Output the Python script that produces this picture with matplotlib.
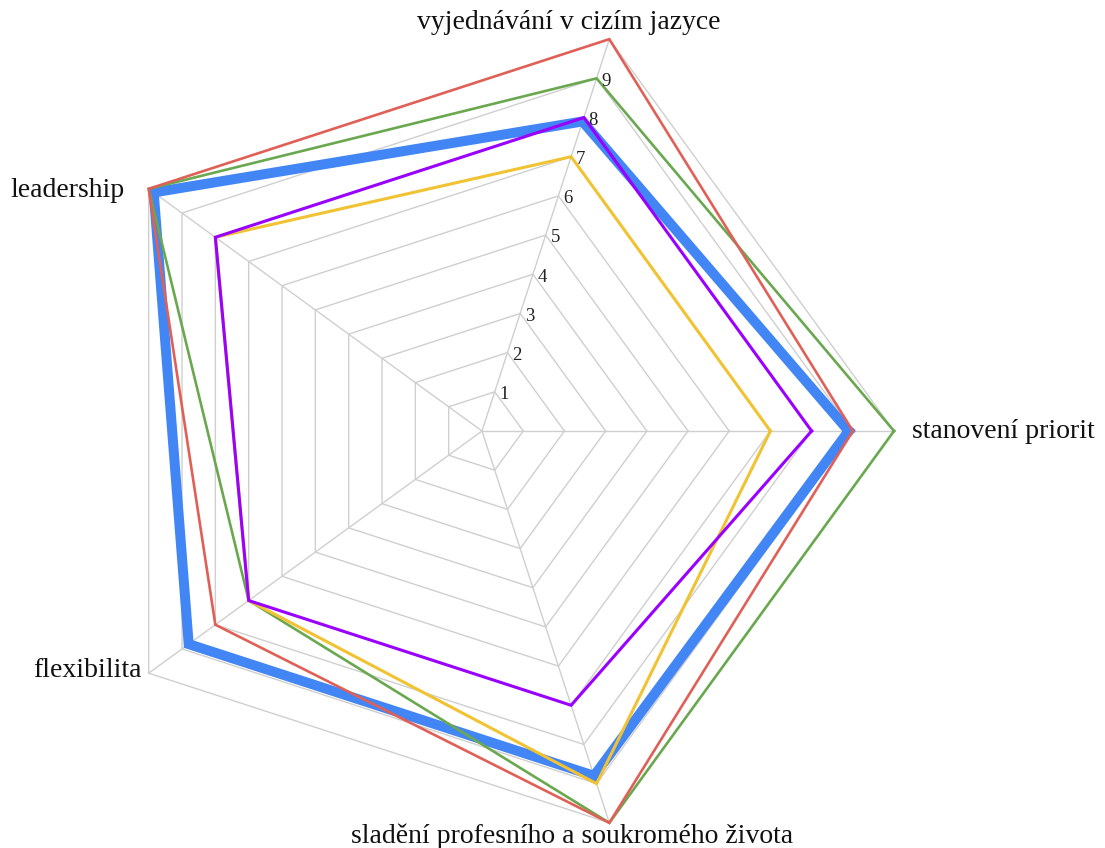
import numpy as np
import matplotlib.pyplot as plt

categories = ['stanovení priorit', 'vyjednávání v cizím jazyce', 'leadership',
              'flexibilita', 'sladění profesního a soukromého života']
red = [9, 10, 10, 8, 10]
green = [10, 9, 10, 7, 10]
blue = [8.9, 7.9, 9.85, 8.8, 8.8]
yellow = [7, 7, 8, 7, 9]
purple = [8, 8, 8, 7, 7]
levels = [1, 2, 3, 4, 5, 6, 7, 8, 9, 10]
tick_labels = ['1', '2', '3', '4', '5', '6', '7', '8', '9']

plt.rcParams['font.family'] = ['Liberation Serif', 'DejaVu Serif']

n = len(categories)
ang = np.deg2rad(np.arange(n) * 360.0 / n)


def xy(vals):
    v = np.asarray(vals, dtype=float)
    v = np.append(v, v[0])
    a = np.append(ang, ang[0])
    return v * np.cos(a), v * np.sin(a)


fig = plt.figure(figsize=(11.05, 8.48), dpi=100)
ax = fig.add_axes([0, 0, 1, 1])
scale = 41.2  # px per unit
cx, cy = 482, 431
ax.set_xlim(-cx / scale, (1105 - cx) / scale)
ax.set_ylim(-(848 - cy) / scale, cy / scale)
ax.axis('off')

# grid
grid_c = '#cfcfcf'
for lv in levels:
    gx, gy = xy([lv] * n)
    ax.plot(gx, gy, color=grid_c, lw=1.0, zorder=1)
for a in ang:
    ax.plot([0, levels[-1] * np.cos(a)], [0, levels[-1] * np.sin(a)],
            color=grid_c, lw=1.0, zorder=1)

# series
series = [
    (blue, '#4285f4', 7.2),
    (green, '#6aa84f', 1.9),
    (red, '#e06058', 1.9),
    (yellow, '#f1c232', 2.2),
    (purple, '#9900ff', 2.2),
]
for i, (vals, col, lw) in enumerate(series):
    sx, sy = xy(vals)
    ax.plot(sx, sy, color=col, lw=lw, solid_joinstyle='miter', zorder=3 + i)

# tick labels along the second axis
for lv, t in zip(levels, tick_labels):
    ax.annotate(t, (lv * np.cos(ang[1]), lv * np.sin(ang[1])),
                xytext=(3.5, -2), textcoords='offset points',
                ha='left', va='center', fontsize=13.5, color='#222222', zorder=10)

# category labels
R = levels[-1]
offsets = [((13, 0), 'left'), ((-29, 12), 'center'), ((-17, -1), 'right'),
           ((-5, 2), 'right'), ((-27, -9.5), 'center')]
for a, lab, (off, ha) in zip(ang, categories, offsets):
    ax.annotate(lab, (R * np.cos(a), R * np.sin(a)), xytext=off,
                textcoords='offset points', ha=ha, va='center',
                fontsize=20, color='#111111')

plt.savefig('out.png', dpi=100)
